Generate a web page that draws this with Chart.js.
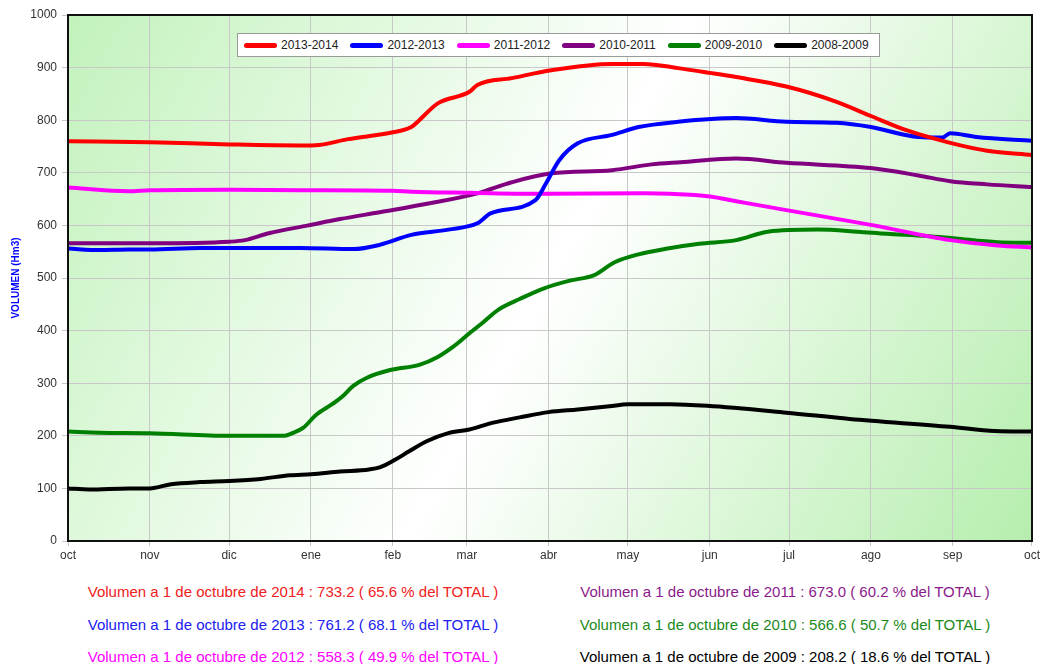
<!DOCTYPE html>
<html>
<head>
<meta charset="utf-8">
<script src="https://cdn.jsdelivr.net/npm/chart.js@4"></script>
<style>
  body { margin: 0; background: #fff; font-family: "Liberation Sans", Arial, sans-serif; }
  #wrap { position: relative; width: 1042px; height: 664px; }
  #chart { position: absolute; left: 0; top: 0; }
  #legend { position: absolute; left: 237px; top: 33px; width: 641px; height: 22px; background: #fff;
            border: 1px solid #9a9a9a; display: flex; align-items: center; font-size: 12px; color: #222; }
  #legend .it { display: flex; align-items: center; margin-left: 6px; margin-right: 6px; }
  #legend .sw { width: 33px; height: 5px; border-radius: 3px; margin-right: 4px; }
  .note { position: absolute; font-size: 15px; white-space: nowrap; transform: translate(-50%, -50%); }
</style>
</head>
<body>
<div id="wrap">
  <canvas id="chart" width="1042" height="570"></canvas>
  <div id="legend"></div>
</div>
<script>
// x values are days counted from 1 October (hydrological year)
var monthLabels = ['oct','nov','dic','ene','feb','mar','abr','may','jun','jul','ago','sep','oct'];
var monthDays = [0,31,61,92,123,151,182,212,243,273,304,335,365];

var seriesNames = ['2013-2014','2012-2013','2011-2012','2010-2011','2009-2010','2008-2009'];
var seriesColors = ['#ff0000','#0000ff','#ff00ff','#800080','#008000','#000000'];

var days1314 = [0,31,61,88,95,106,123,130,133,140,152,155,168,183,206,218,231,243,253,272,291,304,318,334,348,365];
var vol1314  = [760,758,754,752,753,764,777,787,800,832,854,867,880,895,907,907,899,890,882,864,835,808,780,757,742,734];

var days1213 = [0,12,23,31,50,88,108,118,130,144,155,160,177,181,186,193,206,216,231,253,272,291,304,322,331,334,344,365];
var vol1213  = [556,553,554,554,557,557,555,563,582,592,604,623,648,680,724,756,772,787,797,804,797,795,787,768,767,775,768,761];

var days1112 = [0,23,31,61,88,123,130,152,181,218,228,243,253,272,304,334,352,365];
var vol1112  = [672,665,667,668,667,666,664,662,660,661,660,655,646,629,601,572,562,558];

var days1011 = [0,31,61,67,76,91,103,118,137,155,168,183,206,221,232,253,272,304,322,334,348,365];
var vol1011  = [566,566,569,572,585,600,612,625,642,661,682,699,705,716,720,727,719,709,695,684,678,673];

var days0910 = [0,12,31,61,82,85,89,94,100,104,108,113,122,133,140,146,152,157,163,171,180,190,199,207,216,227,239,253,265,284,299,310,325,336,352,365];
var vol0910  = [208,206,205,200,200,205,215,240,260,275,295,310,325,335,350,370,395,415,440,460,480,495,505,530,545,556,565,572,588,592,588,584,580,575,568,567];

var days0809 = [0,8,23,31,39,50,61,73,84,92,103,114,118,124,129,136,144,152,161,171,182,193,205,212,228,242,272,296,334,351,365];
var vol0809  = [100,98,100,100,108,112,114,118,125,127,132,136,140,155,170,190,205,212,225,235,245,250,256,260,260,257,244,232,217,209,208];

var notes = [
  'Volumen a 1 de octubre de 2014 : 733.2 ( 65.6 % del TOTAL )',
  'Volumen a 1 de octubre de 2013 : 761.2 ( 68.1 % del TOTAL )',
  'Volumen a 1 de octubre de 2012 : 558.3 ( 49.9 % del TOTAL )',
  'Volumen a 1 de octubre de 2011 : 673.0 ( 60.2 % del TOTAL )',
  'Volumen a 1 de octubre de 2010 : 566.6 ( 50.7 % del TOTAL )',
  'Volumen a 1 de octubre de 2009 : 208.2 ( 18.6 % del TOTAL )'
];
var noteColors = ['#f02020','#2020f0','#ff00ff','#8a1a8a','#1a8a1a','#000000'];

var allDays = [days1314, days1213, days1112, days1011, days0910, days0809];
var allVols = [vol1314, vol1213, vol1112, vol1011, vol0910, vol0809];

function pts(d, v) {
  return d.map(function(x, i) { return {x: x, y: v[i]}; });
}

var datasets = [];
for (let i = 0; i < seriesNames.length; i++) {
  datasets.push({
    label: seriesNames[i],
    data: pts(allDays[i], allVols[i]),
    borderColor: seriesColors[i],
    backgroundColor: seriesColors[i],
    borderWidth: 4,
    pointRadius: 0,
    cubicInterpolationMode: 'monotone',
    fill: false
  });
}

// legend
var leg = document.getElementById('legend');
seriesNames.forEach(function(n, i) {
  var it = document.createElement('div');
  it.className = 'it';
  it.innerHTML = '<div class="sw" style="background:' + seriesColors[i] + '"></div><span>' + n + '</span>';
  leg.appendChild(it);
});

// summary texts under the chart
var wrap = document.getElementById('wrap');
var noteX = [293, 293, 293, 785, 785, 785];
var noteY = [591, 624, 656, 591, 624, 656];
notes.forEach(function(t, i) {
  var d = document.createElement('div');
  d.className = 'note';
  d.style.left = noteX[i] + 'px';
  d.style.top = noteY[i] + 'px';
  d.style.color = noteColors[i];
  d.textContent = t;
  wrap.appendChild(d);
});

var bgPlugin = {
  id: 'bg',
  beforeDraw: function(chart) {
    var a = chart.chartArea, ctx = chart.ctx;
    var g = ctx.createLinearGradient(a.left, a.top, a.right, a.bottom);
    g.addColorStop(0, '#c2f2bc');
    g.addColorStop(0.5, '#ffffff');
    g.addColorStop(1, '#b6eeae');
    ctx.save();
    ctx.fillStyle = g;
    ctx.fillRect(a.left, a.top, a.right - a.left, a.bottom - a.top);
    ctx.restore();
  },
  afterDraw: function(chart) {
    var a = chart.chartArea, ctx = chart.ctx;
    ctx.save();
    ctx.strokeStyle = '#111';
    ctx.lineWidth = 2;
    ctx.strokeRect(a.left, a.top, a.right - a.left, a.bottom - a.top);
    ctx.restore();
  }
};

new Chart(document.getElementById('chart'), {
  type: 'line',
  data: { datasets: datasets },
  plugins: [bgPlugin],
  options: {
    responsive: false,
    devicePixelRatio: 1,
    animation: false,
    layout: { padding: { top: 15, right: 7, left: 0, bottom: 0 } },
    plugins: { legend: { display: false }, tooltip: { enabled: false } },
    scales: {
      x: {
        type: 'linear',
        min: 0,
        max: 365,
        afterBuildTicks: function(scale) {
          scale.ticks = monthDays.map(function(d) { return {value: d}; });
        },
        afterFit: function(scale) { scale.height = 29; },
        ticks: {
          autoSkip: false,
          maxRotation: 0,
          padding: 2,
          color: '#333',
          font: { family: 'Liberation Sans', size: 12 },
          callback: function(v) { return monthLabels[monthDays.indexOf(v)]; }
        },
        grid: { color: '#c8c8c8', tickLength: 5 },
        border: { display: false }
      },
      y: {
        min: 0,
        max: 1000,
        afterFit: function(scale) { scale.width = 68; },
        ticks: {
          stepSize: 100,
          padding: 5,
          color: '#333',
          font: { family: 'Liberation Sans', size: 12 },
          callback: function(v) { return String(v); }
        },
        grid: { color: '#c8c8c8', tickLength: 6 },
        border: { display: false },
        title: {
          display: true,
          text: 'VOLUMEN (Hm3)',
          color: '#0000ff',
          font: { family: 'Liberation Sans', size: 10, weight: 'bold' },
          padding: { top: 10, bottom: 0 }
        }
      }
    }
  }
});
</script>
</body>
</html>
